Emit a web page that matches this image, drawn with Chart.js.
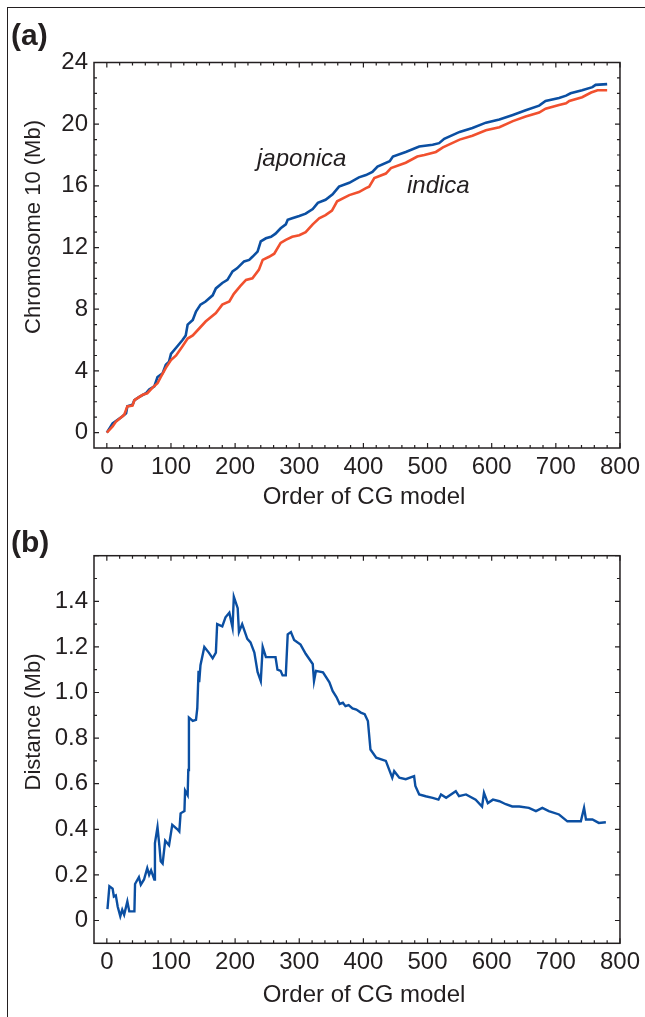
<!DOCTYPE html>
<html>
<head>
<meta charset="utf-8">
<script src="https://cdn.jsdelivr.net/npm/chart.js@4.4.1/dist/chart.umd.min.js"></script>
<style>
  html, body { margin: 0; padding: 0; background: #fff; }
  #page { position: relative; width: 645px; height: 1017px; overflow: hidden; }
  #edge { position: absolute; left: 7px; top: 6.5px; right: -4px; bottom: -4px;
          border-left: 1.5px solid #231f20; border-top: 1.5px solid #231f20; }
  canvas { position: absolute; left: 0; }
</style>
</head>
<body>
<div id="page">
  <div id="edge"></div>
  <canvas id="chartA" width="645" height="510" style="top:0"></canvas>
  <canvas id="chartB" width="645" height="507" style="top:510px"></canvas>
</div>
<script>
// ---- data (order of CG model vs Mb) ----
const orderTicks = [0, 100, 200, 300, 400, 500, 600, 700, 800];
const chromTicks = [0, 4, 8, 12, 16, 20, 24];
const distTicks = [0, 0.2, 0.4, 0.6, 0.8, 1.0, 1.2, 1.4];

const japonicaOrder = [0, 9, 24, 30, 32, 40, 43, 50, 61, 66, 74, 79, 87, 92, 97, 100, 108, 118, 123, 126,
  134, 139, 146, 154, 165, 170, 180, 188, 196, 203, 214, 222, 227, 235, 240, 248, 256, 263, 271, 279,
  282, 289, 300, 310, 321, 329, 341, 352, 362, 378, 393, 404, 414, 422, 441, 446, 466, 487, 508, 518,
  526, 550, 570, 591, 612, 633, 653, 674, 684, 705, 716, 723, 741, 757, 762, 780];
const japonicaMb = [0, 0.6, 1.04, 1.25, 1.7, 1.8, 2.1, 2.3, 2.55, 2.8, 3.0, 3.6, 3.85, 4.4, 4.6, 5.1, 5.5, 6.0, 6.3, 7.0,
  7.3, 7.85, 8.3, 8.5, 8.9, 9.35, 9.7, 9.9, 10.45, 10.65, 11.1, 11.2, 11.4, 11.74, 12.4, 12.6, 12.7, 12.9, 13.25, 13.5,
  13.8, 13.9, 14.05, 14.2, 14.5, 14.9, 15.1, 15.45, 15.95, 16.2, 16.55, 16.7, 16.9, 17.25, 17.6, 17.9, 18.2, 18.55, 18.66, 18.77,
  19.05, 19.5, 19.75, 20.1, 20.3, 20.6, 20.9, 21.2, 21.5, 21.7, 21.85, 22.0, 22.2, 22.4, 22.55, 22.6];

const indicaOrder = [0, 9, 14, 27, 32, 40, 43, 56, 63, 71, 79, 84, 92, 100, 108, 118, 126, 134, 144, 154,
  170, 180, 191, 198, 208, 217, 227, 237, 243, 253, 261, 271, 279, 289, 300, 310, 321, 331, 341, 351,
  359, 378, 393, 404, 409, 417, 435, 443, 466, 484, 495, 513, 524, 550, 570, 591, 612, 633, 653, 674,
  684, 705, 716, 721, 741, 755, 765, 780];
const indicaMb = [0, 0.4, 0.7, 1.15, 1.7, 1.75, 2.1, 2.45, 2.55, 2.9, 3.2, 3.6, 4.2, 4.7, 5.0, 5.6, 6.1, 6.3, 6.75, 7.2,
  7.75, 8.3, 8.5, 9.0, 9.5, 9.9, 10.0, 10.55, 11.2, 11.4, 11.6, 12.3, 12.5, 12.7, 12.8, 13.0, 13.5, 13.9, 14.1, 14.4,
  15.0, 15.4, 15.6, 15.85, 15.95, 16.5, 16.8, 17.15, 17.5, 17.9, 18.0, 18.2, 18.5, 19.0, 19.25, 19.6, 19.8, 20.2, 20.5, 20.75,
  21.0, 21.25, 21.35, 21.5, 21.75, 22.05, 22.2, 22.2];

const distanceOrder = [1, 4, 9, 11, 14, 17, 21, 24, 27, 32, 35, 43, 44, 50, 53, 58, 63, 66, 69, 74,
  75, 79, 82, 84, 87, 91, 97, 102, 110, 113, 115, 121, 122, 126, 127, 128, 134, 139, 141, 143,
  144, 146, 152, 159, 165, 170, 172, 180, 185, 191, 196, 198, 204, 206, 211, 219, 224, 230, 235, 240,
  243, 248, 263, 266, 271, 274, 279, 282, 287, 292, 302, 310, 321, 323, 326, 337, 347, 352, 358, 363,
  368, 372, 377, 383, 389, 396, 402, 407, 411, 420, 435, 440, 445, 448, 456, 466, 479, 481, 487, 497,
  508, 517, 521, 529, 544, 549, 560, 575, 585, 588, 594, 602, 612, 622, 632, 643, 658, 669, 679, 689,
  705, 718, 739, 744, 747, 757, 767, 778];
const distanceMb = [0.05, 0.15, 0.14, 0.105, 0.11, 0.06, 0.018, 0.047, 0.025, 0.084, 0.04, 0.04, 0.16, 0.19, 0.157, 0.18, 0.23, 0.2, 0.22, 0.18,
  0.34, 0.41, 0.325, 0.26, 0.25, 0.35, 0.33, 0.42, 0.40, 0.39, 0.47, 0.48, 0.57, 0.55, 0.66, 0.89, 0.875, 0.88, 0.93, 1.095,
  1.045, 1.12, 1.2, 1.175, 1.15, 1.175, 1.3, 1.29, 1.33, 1.35, 1.285, 1.42, 1.37, 1.265, 1.3, 1.235, 1.22, 1.175, 1.09, 1.05,
  1.2, 1.155, 1.155, 1.1, 1.095, 1.075, 1.075, 1.255, 1.265, 1.23, 1.21, 1.17, 1.125, 1.05, 1.095, 1.088, 1.045, 1.007, 0.98, 0.95,
  0.955, 0.94, 0.945, 0.93, 0.925, 0.912, 0.905, 0.875, 0.75, 0.714, 0.7, 0.663, 0.626, 0.655, 0.626, 0.62, 0.633, 0.59, 0.553, 0.545,
  0.538, 0.53, 0.553, 0.538, 0.567, 0.545, 0.553, 0.53, 0.5, 0.56, 0.515, 0.53, 0.523, 0.51, 0.5, 0.5, 0.494, 0.48, 0.494, 0.48,
  0.465, 0.435, 0.435, 0.494, 0.443, 0.443, 0.428, 0.431];

const INK = '#231f20';
const BLUE = '#0b4fa2';
const RED = '#f1502e';
const FONT = "'Liberation Sans', Arial, Helvetica, sans-serif";

const pairs = (xs, ys) => xs.map((x, i) => ({ x: x, y: ys[i] }));

// frame, inward ticks on all four sides, and free-standing labels
const frameTicks = {
  id: 'frameTicks',
  afterDraw(chart, args, opts) {
    const { ctx, chartArea: a, scales } = chart;
    const xs = scales.x, ys = scales.y;
    ctx.save();
    ctx.strokeStyle = INK;
    ctx.lineWidth = 1.5;
    ctx.strokeRect(a.left, a.top, a.right - a.left, a.bottom - a.top);
    ctx.lineWidth = 1.2;
    ctx.beginPath();
    for (let i = 0; i * opts.xMinor <= xs.max + 1e-9; i++) {
      const px = xs.getPixelForValue(i * opts.xMinor);
      const len = i % opts.xEvery === 0 ? 5 : 3;
      ctx.moveTo(px, a.bottom); ctx.lineTo(px, a.bottom - len);
      ctx.moveTo(px, a.top); ctx.lineTo(px, a.top + len);
    }
    for (let i = 0; i * opts.yMinor <= ys.max + 1e-9; i++) {
      const py = ys.getPixelForValue(i * opts.yMinor);
      const len = i % opts.yEvery === 0 ? 5 : 3;
      ctx.moveTo(a.left, py); ctx.lineTo(a.left + len, py);
      ctx.moveTo(a.right, py); ctx.lineTo(a.right - len, py);
    }
    ctx.stroke();

    ctx.fillStyle = INK;
    (opts.texts || []).forEach(t => {
      ctx.save();
      ctx.font = t.font;
      ctx.textAlign = t.align || 'center';
      ctx.textBaseline = t.baseline || 'middle';
      ctx.translate(t.x, t.y);
      if (t.rotate) ctx.rotate(t.rotate);
      ctx.fillText(t.text, 0, 0);
      ctx.restore();
    });
    ctx.restore();
  }
};

function axisX(height) {
  return {
    type: 'linear', min: -20, max: 800,
    afterBuildTicks: s => { s.ticks = orderTicks.map(v => ({ value: v })); },
    afterFit: s => { s.height = height; },
    ticks: { color: INK, font: { family: FONT, size: 24 }, padding: 5, maxRotation: 0, autoSkip: false },
    grid: { display: false, drawTicks: false },
    border: { display: false }
  };
}

function axisY(min, max, tickValues, fmt) {
  return {
    type: 'linear', min: min, max: max,
    afterBuildTicks: s => { s.ticks = tickValues.map(v => ({ value: v })); },
    afterFit: s => { s.width = 94; },
    ticks: { color: INK, font: { family: FONT, size: 24 }, padding: 6, autoSkip: false, callback: fmt },
    grid: { display: false, drawTicks: false },
    border: { display: false }
  };
}

const common = {
  responsive: false,
  animation: false,
  plugins: { legend: { display: false }, tooltip: { enabled: false } }
};

new Chart(document.getElementById('chartA'), {
  type: 'line',
  data: {
    datasets: [
      { data: pairs(indicaOrder, indicaMb), borderColor: RED, borderWidth: 2.6, pointRadius: 0, tension: 0, fill: false },
      { data: pairs(japonicaOrder, japonicaMb), borderColor: BLUE, borderWidth: 2.6, pointRadius: 0, tension: 0, fill: false }
    ]
  },
  options: Object.assign({}, common, {
    layout: { padding: { top: 62.5, right: 24, bottom: 0, left: 0 } },
    scales: {
      x: axisX(62),
      y: axisY(-1, 24, chromTicks, v => String(v))
    },
    plugins: Object.assign({}, common.plugins, {
      frameTicks: {
        xMinor: 20, xEvery: 5, yMinor: 1, yEvery: 4,
        texts: [
          { text: '(a)', x: 11, y: 37, align: 'left', font: 'bold 30px ' + FONT },
          { text: 'Chromosome 10 (Mb)', x: 34, y: 227, rotate: -Math.PI / 2, font: '22px ' + FONT },
          { text: 'Order of CG model', x: 364, y: 497, font: '24px ' + FONT },
          { text: 'japonica', x: 257, y: 166, align: 'left', baseline: 'alphabetic', font: 'italic 24px ' + FONT },
          { text: 'indica', x: 407, y: 193, align: 'left', baseline: 'alphabetic', font: 'italic 24px ' + FONT }
        ]
      }
    })
  }),
  plugins: [frameTicks]
});

new Chart(document.getElementById('chartB'), {
  type: 'line',
  data: {
    datasets: [
      { data: pairs(distanceOrder, distanceMb), borderColor: BLUE, borderWidth: 2.4, pointRadius: 0, tension: 0, fill: false }
    ]
  },
  options: Object.assign({}, common, {
    layout: { padding: { top: 45.7, right: 24, bottom: 0, left: 0 } },
    scales: {
      x: axisX(73.7),
      y: axisY(-0.1, 1.6, distTicks, v => v === 0 ? '0' : v.toFixed(1))
    },
    plugins: Object.assign({}, common.plugins, {
      frameTicks: {
        xMinor: 20, xEvery: 5, yMinor: 0.1, yEvery: 2,
        texts: [
          { text: '(b)', x: 11, y: 34, align: 'left', font: 'bold 30px ' + FONT },
          { text: 'Distance (Mb)', x: 34, y: 212, rotate: -Math.PI / 2, font: '22px ' + FONT },
          { text: 'Order of CG model', x: 364, y: 485, font: '24px ' + FONT }
        ]
      }
    })
  }),
  plugins: [frameTicks]
});
</script>
</body>
</html>
